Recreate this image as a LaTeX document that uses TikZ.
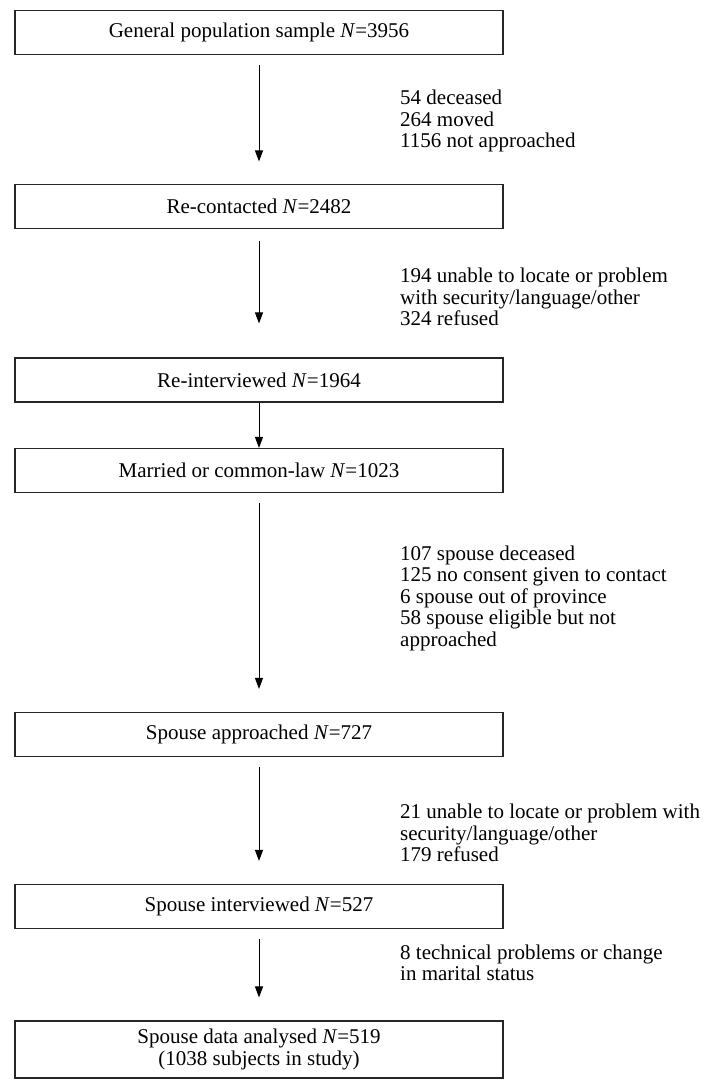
\documentclass[tikz,border=0pt]{standalone}
\usepackage{fontspec}
\setmainfont{Liberation Serif}
\usetikzlibrary{arrows.meta}
\tikzstyle{stage} = [draw=black!85, line width=1.1pt, minimum width=488pt, minimum height=44pt, inner sep=0pt, align=center, font=\fontsize{21}{21.5}\selectfont]
\tikzstyle{reason} = [anchor=west, align=left, inner sep=0pt, font=\fontsize{21}{21.5}\selectfont]
\tikzset{>={Triangle[length=11pt,width=8pt]}}

\begin{document}
\begin{tikzpicture}[x=1pt, y=-1pt]
  \useasboundingbox (0,0) rectangle (704,1086);
  % Stages
  \node[stage] (sample) at (259,32.5) {General population sample \textit{N}=3956};
  \node[stage] (recontact) at (259,206.5) {Re-contacted \textit{N}=2482};
  \node[stage] (reinterview) at (259,380) {Re-interviewed \textit{N}=1964};
  \node[stage] (married) at (259,470.5) {Married or common-law \textit{N}=1023};
  \node[stage] (approach) at (259,734.5) {Spouse approached \textit{N}=727};
  \node[stage] (interview) at (259,906.5) {Spouse interviewed \textit{N}=527};
  \node[stage, minimum height=57pt] (analysed) at (259,1049.5) {Spouse data analysed \textit{N}=519\\(1038 subjects in study)};
  % Exclusions
  \node[reason] (lost1) at (400,121) {54 deceased\\264 moved\\1156 not approached};
  \node[reason] (lost2) at (400,297) {194 unable to locate or problem\\with security/language/other\\324 refused};
  \node[reason] (lost4) at (400,598) {107 spouse deceased\\125 no consent given to contact\\6 spouse out of province\\58 spouse eligible but not\\approached};
  \node[reason] (lost5) at (400,833) {21 unable to locate or problem with\\security/language/other\\179 refused};
  \node[reason] (lost6) at (400,963) {8 technical problems or change\\in marital status};
  % Arrows
  \foreach \a/\b/\off/\lead in {sample/recontact/10/22.5, recontact/reinterview/11.5/34,
      reinterview/married/0/0, married/approach/10/23, approach/interview/10/23,
      interview/analysed/10/23} {
    \draw[->, line width=1pt] ([yshift=-\off pt]\a.south) -- ([yshift=\lead pt]\b.north);
  }
\end{tikzpicture}
\end{document}
